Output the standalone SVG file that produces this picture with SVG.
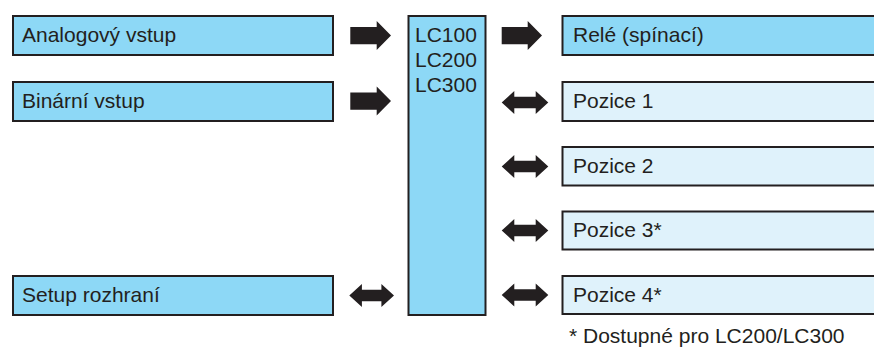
<svg xmlns="http://www.w3.org/2000/svg" width="874" height="347" viewBox="0 0 874 347">
<style>
.b{fill:#8dd8f6;stroke:#231f20;stroke-width:2}
.l{fill:#dff2fb;stroke:#231f20;stroke-width:2}
.t{font-family:"Liberation Sans",Arial,sans-serif;font-size:21px;fill:#231f20}
.a{fill:#231f20}
</style>
<rect width="874" height="347" fill="#fff"/>
<g id="analog"><rect class="b" x="13" y="16" width="320" height="39"/><text class="t" x="22" y="42">Analogový vstup</text></g>
<g id="binar"><rect class="b" x="13" y="82" width="320" height="39"/><text class="t" x="22" y="108">Binární vstup</text></g>
<g id="setup"><rect class="b" x="13" y="276" width="320" height="39"/><text class="t" x="22" y="302">Setup rozhraní</text></g>
<g id="lc"><rect class="b" x="408.5" y="16" width="77" height="299"/><text class="t" x="415" y="42">LC100</text><text class="t" x="415" y="67">LC200</text><text class="t" x="415" y="92">LC300</text></g>
<g id="rele"><rect class="b" x="562.5" y="16" width="320" height="39"/><text class="t" x="573" y="42">Relé (spínací)</text></g>
<g id="poz1"><rect class="l" x="562.5" y="82" width="320" height="39"/><text class="t" x="573" y="108">Pozice 1</text></g>
<g id="poz2"><rect class="l" x="562.5" y="147" width="320" height="38.5"/><text class="t" x="573" y="173">Pozice 2</text></g>
<g id="poz3"><rect class="l" x="562.5" y="211.5" width="320" height="38"/><text class="t" x="573" y="237">Pozice 3*</text></g>
<g id="poz4"><rect class="l" x="562.5" y="276" width="320" height="38"/><text class="t" x="573" y="302">Pozice 4*</text></g>
<g id="connectors">
<path class="a" d="M350.3 27H376.7V21L391 35.5L376.7 50V44.3H350.3Z"/>
<path class="a" d="M350.3 92.5H376.7V86.5L391 101L376.7 115.5V109.8H350.3Z"/>
<path class="a" d="M501.7 27H527.7V21L542 35.5L527.7 50V44.3H501.7Z"/>
<path class="a" d="M501.7 102.5L514.3 91V96.7H535.7V91L548.3 102.5L535.7 114V108.3H514.3V114Z"/>
<path class="a" d="M501.7 166.5L514.3 155V160.7H535.7V155L548.3 166.5L535.7 178V172.3H514.3V178Z"/>
<path class="a" d="M501.7 230.5L514.3 219V224.7H535.7V219L548.3 230.5L535.7 242V236.3H514.3V242Z"/>
<path class="a" d="M501.7 295L514.3 283.5V289.2H535.7V283.5L548.3 295L535.7 306.5V300.8H514.3V306.5Z"/>
<path class="a" d="M349.3 295.5L361.9 284V289.7H381.4V284L394 295.5L381.4 307V301.3H361.9V307Z"/>
</g>
<text class="t" x="569" y="343">* Dostupné pro LC200/LC300</text>
</svg>
